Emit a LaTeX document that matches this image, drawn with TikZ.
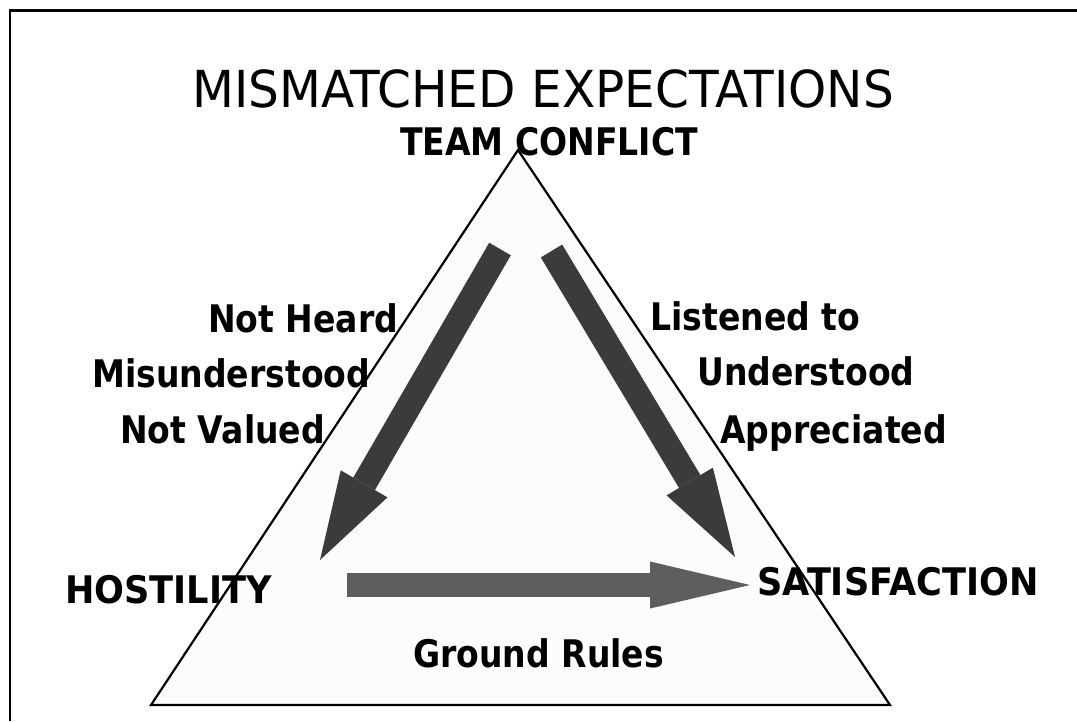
\documentclass[tikz,border=0pt]{standalone}
\usepackage{fontspec}
\setmainfont{DejaVu Sans}
\newfontfamily\headfont[FakeStretch=0.952]{DejaVu Sans}
\newfontfamily\capfont[FakeStretch=0.925]{DejaVu Sans}
\newfontfamily\labfont[FakeStretch=0.87]{DejaVu Sans}
\usepackage{tikz}
\usetikzlibrary{arrows.meta}
\definecolor{Ink}{HTML}{000000}
\definecolor{Shade}{HTML}{3B3B3B}
\definecolor{Slate}{HTML}{5E5E5E}
\definecolor{Paper}{HTML}{FCFCFC}
\tikzset{
  frame/.style={draw=Ink,line width=2.5pt},
  tri/.style={draw=Ink,line width=2.2pt,fill=Paper,line join=miter},
  flow/.style={draw=Shade,line width=25pt,-{Triangle[width=54pt,length=88pt,line width=0pt]}},
  rules/.style={flow,draw=Slate,line width=24pt,-{Triangle[width=47pt,length=100pt,line width=0pt]}},
  headline/.style={font=\headfont\fontsize{51}{60}\selectfont,inner sep=0pt,anchor=base},
  lab/.style={font=\labfont\bfseries\fontsize{38}{44}\selectfont,inner sep=0pt,anchor=base west},
  vertex/.style={lab,font=\capfont\bfseries\fontsize{38}{44}\selectfont}
}
\begin{document}
\begin{tikzpicture}[x=1pt,y=-1pt]
    \useasboundingbox (0,0) rectangle (1077,721);
    \draw[frame] (10,721) |- (1077,10.5);
    % corners of the triangle
    \coordinate (apex) at (518,150); \coordinate (bl) at (151,705); \coordinate (br) at (890,705);
    \draw[tri] (apex)--(br)--(bl)--cycle;
    \node[headline] (title) at (543,107) {MISMATCHED EXPECTATIONS};
    \node[lab,anchor=base] (team) at (549,155) {TEAM CONFLICT};
    \node[vertex] (host) at (65,603) {HOSTILITY};
    \node[vertex] (satis) at (757,595) {SATISFACTION};
    \node[lab] (rules) at (413,667) {Ground Rules};
    % left side
    \node[lab] (heard) at (208,332) {Not Heard};
    \node[lab] (misund) at (92,387) {Misunderstood};
    \node[lab] (valued) at (120,443) {Not Valued};
    % right side
    \node[lab] (listen) at (650,330) {Listened to};
    \node[lab] (und) at (697,385) {Understood};
    \node[lab] (apprec) at (720,443) {Appreciated};
    % the three arrows
    \coordinate (lTail) at (500,249); \coordinate (lTip) at (320,560);
    \coordinate (rTail) at (551.5,251); \coordinate (rTip) at (735,557);
    \coordinate (gTail) at (347,585); \coordinate (gTip) at (750,585);
    \draw[flow] (lTail)--(lTip);
    \draw[flow] (rTail)--(rTip);
    \draw[rules] (gTail)--(gTip);
  \end{tikzpicture}
\end{document}
